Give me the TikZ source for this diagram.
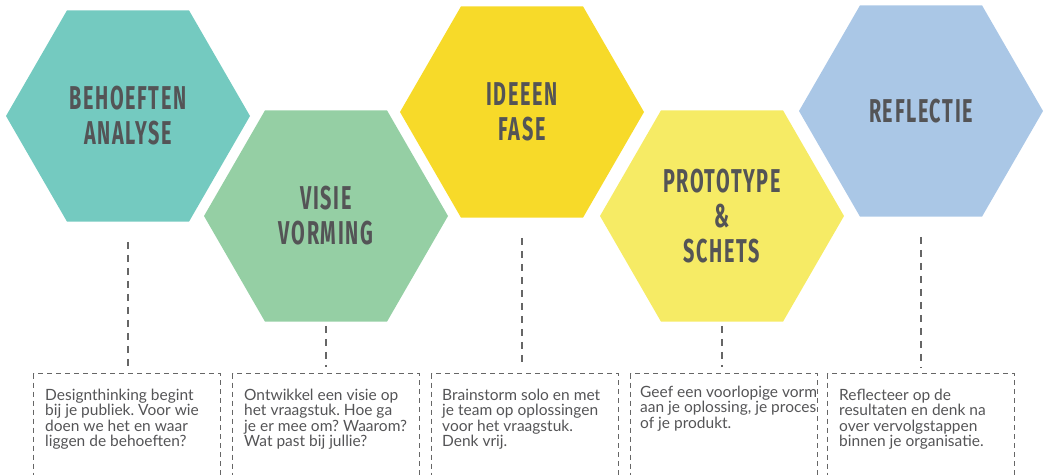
\documentclass[tikz,border=0pt]{standalone}
\usepackage{fontspec}
\setmainfont{Fira Sans}
\newfontfamily\hexfont{Fira Sans}[FakeStretch=0.6,LetterSpace=5]
\newfontfamily\bodyfont{Lato}
\usepackage{tikz}
\usetikzlibrary{positioning}
\usetikzlibrary{shapes.geometric}
\usepackage{xcolor}

\definecolor{hexteal}{RGB}{116,202,192}
\definecolor{hexgreen}{RGB}{149,207,164}
\definecolor{hexyellow}{RGB}{247,218,41}
\definecolor{hexlemon}{RGB}{246,235,101}
\definecolor{hexblue}{RGB}{170,199,230}
\definecolor{inkgray}{RGB}{84,84,86}
\definecolor{dashgray}{RGB}{102,102,102}

\begin{document}
\frenchspacing
\begin{tikzpicture}[
  x=1pt, y=-1pt,
  hexa/.style={regular polygon, regular polygon sides=6, minimum size=244pt,
    inner sep=0pt, text=inkgray, align=center,
    font=\hexfont\bfseries\fontsize{33}{35}\selectfont},
  descbox/.style={draw=dashgray, dash pattern=on 5pt off 4pt, line width=1.2pt,
    minimum width=187pt, minimum height=130pt, anchor=north west, inner sep=0pt},
  desctext/.style={align=left, text=inkgray, inner sep=0pt,
    font=\bodyfont\fontsize{15.5}{15.2}\selectfont},
  link/.style={draw=dashgray, line width=2pt, dash pattern=on 7pt off 6pt,
    shorten >=6pt}
]
\clip (0,0) rectangle (1048,474);

% hexagons
\node[hexa, fill=hexteal] (h1) at (128,116) {BEHOEFTEN\\ANALYSE};
\node[hexa, fill=hexgreen] (h2) at (326,216) {VISIE\\VORMING};
\node[hexa, fill=hexyellow] (h3) at (522,112) {IDEEEN\\FASE};
\node[hexa, fill=hexlemon] (h4) at (722,216) {PROTOTYPE\\\&\\SCHETS};
\node[hexa, fill=hexblue] (h5) at (921,111) {REFLECTIE};

% dashed boxes
\node[descbox] (b1) at (33,373) {};
\node[descbox] (b2) at (232,373) {};
\node[descbox] (b3) at (431,373) {};
\node[descbox] (b4) at (630,373) {};
\node[descbox] (b5) at (827,373) {};

% texts
\node[desctext, below right=16pt and 12pt of b1.north west] (t1) {Designthinking begint\\bij je publiek. Voor wie\\doen we het en waar\\liggen de behoeften?};
\node[desctext, below right=16pt and 12pt of b2.north west] (t2) {Ontwikkel een visie op\\het vraagstuk. Hoe ga\\je er mee om? Waarom?\\Wat past bij jullie?};
\node[desctext, below right=16pt and 11pt of b3.north west] (t3) {Brainstorm solo en met\\je team op oplossingen\\voor het vraagstuk.\\Denk vrij.};
\node[desctext, below right=13pt and 10pt of b4.north west] (t4) {Geef een voorlopige vorm\\aan je oplossing, je proces\\of je produkt.};
\node[desctext, below right=16pt and 12pt of b5.north west] (t5) {Reflecteer op de\\resultaten en denk na\\over vervolgstappen\\binnen je organisatie.};

% connectors
\draw[link] ([yshift=-20pt]h1.south) -- (h1.south |- b1.north);
\draw[link] ([yshift=-4pt]h2.south) -- (h2.south |- b2.north);
\draw[link] ([yshift=-20pt]h3.south) -- (h3.south |- b3.north);
\draw[link] ([yshift=-4pt]h4.south) -- (h4.south |- b4.north);
\draw[link] ([yshift=-20pt]h5.south) -- (h5.south |- b5.north);
\end{tikzpicture}
\end{document}
